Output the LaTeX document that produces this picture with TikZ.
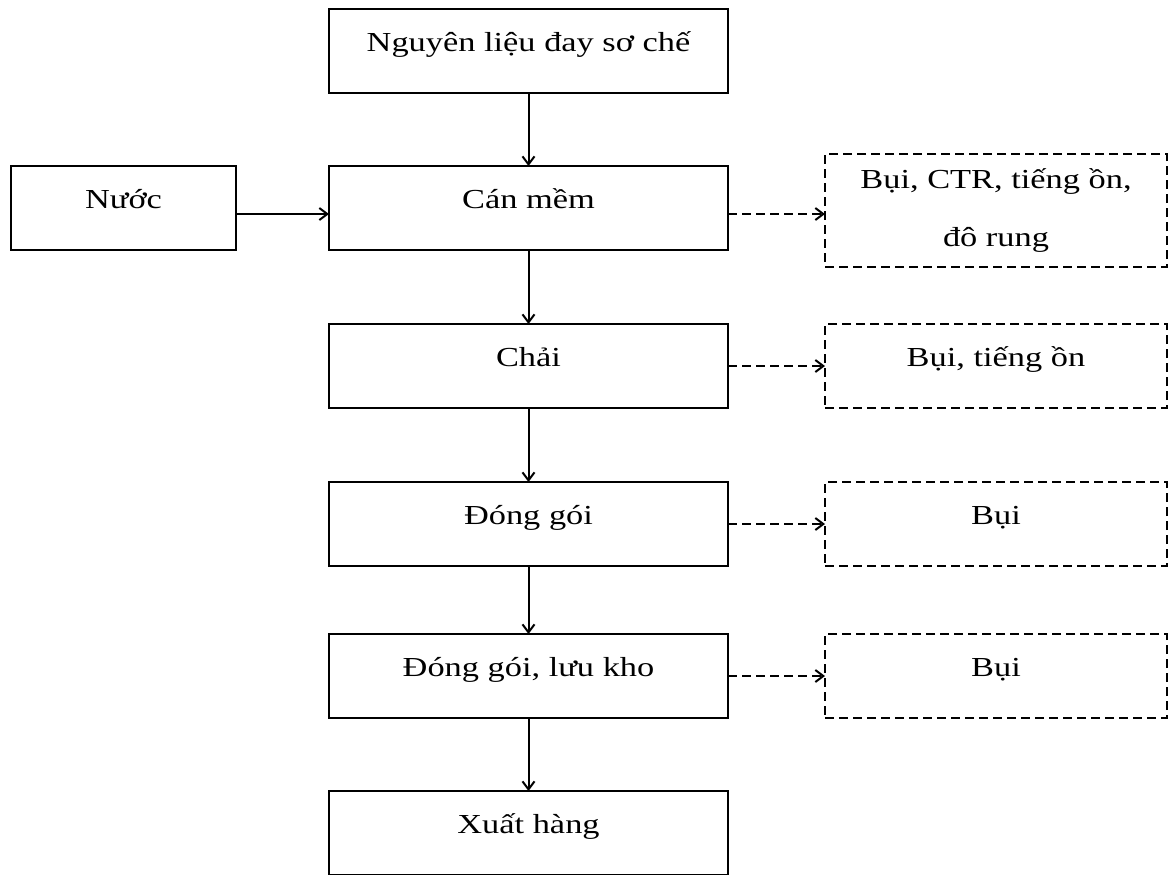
\documentclass[tikz,border=0pt]{standalone}
\usepackage{fontspec}
\setmainfont{Liberation Serif}[FakeStretch=1.25]
\usetikzlibrary{arrows.meta,positioning}

\begin{document}
\begin{tikzpicture}[
    x=0.5pt, y=-0.5pt,
    every node/.style={font=\fontsize{13.75}{29}\selectfont},
    baseBox/.style={draw, line width=1pt, minimum height=42pt, inner sep=0pt, outer sep=0pt},
    procBox/.style={baseBox, minimum width=199.5pt, text height=10pt, text depth=10pt},
    inBox/.style={procBox, minimum width=112.5pt},
    wasteBox/.style={procBox, minimum width=171pt, dash pattern=on 4.5pt off 2.5pt},
    wasteBoxTall/.style={baseBox, align=center, minimum width=171pt, minimum height=56.5pt, dash pattern=on 4.5pt off 2.5pt},
    flowarrow/.style={line width=1pt, -{Straight Barb[length=4pt,width=6pt]}},  % solid process arrows
    wastearrow/.style={flowarrow, dash pattern=on 4.5pt off 2.5pt}              % dashed arrows to waste boxes
  ]
  \useasboundingbox (0,0) rectangle (1168,874);

  % Main process column
  \node[procBox] (nguyenlieu) at (528.5,51) {Nguyên liệu đay sơ chế};
  \node[procBox, below=36.5pt of nguyenlieu] (canmem) {Cán mềm};
  \node[procBox, below=37pt of canmem] (chai) {Chải};
  \node[procBox, below=37pt of chai] (donggoi) {Đóng gói};
  \node[procBox, below=34pt of donggoi] (luukho) {Đóng gói, lưu kho};
  \node[procBox, below=36.5pt of luukho] (xuathang) {Xuất hàng};

  % Input
  \node[inBox, left=46.5pt of canmem] (nuoc) {Nước};

  % Waste boxes
  \node[wasteBoxTall, right=48.5pt of canmem, yshift=-1.25pt] (thaiA) {Bụi, CTR, tiếng ồn,\\đô rung};
  \node[wasteBox, right=48.5pt of chai] (thaiB) {Bụi, tiếng ồn};
  \node[wasteBox, right=48.5pt of donggoi] (thaiC) {Bụi};
  \node[wasteBox, right=48.5pt of luukho] (thaiD) {Bụi};

  \foreach \a/\b in {nguyenlieu/canmem, canmem/chai, chai/donggoi, donggoi/luukho, luukho/xuathang}
    \draw[flowarrow] (\a) -- (\b);
  \draw[flowarrow] ([yshift=-3pt]nuoc.east) -- ([yshift=-3pt]canmem.west);

  \draw[wastearrow] ([yshift=-3pt]canmem.east) -- ([yshift=-3pt]canmem.east -| thaiA.west);
  \foreach \a/\b in {chai/thaiB, donggoi/thaiC, luukho/thaiD}
    \draw[wastearrow] (\a) -- (\b);
\end{tikzpicture}
\end{document}
